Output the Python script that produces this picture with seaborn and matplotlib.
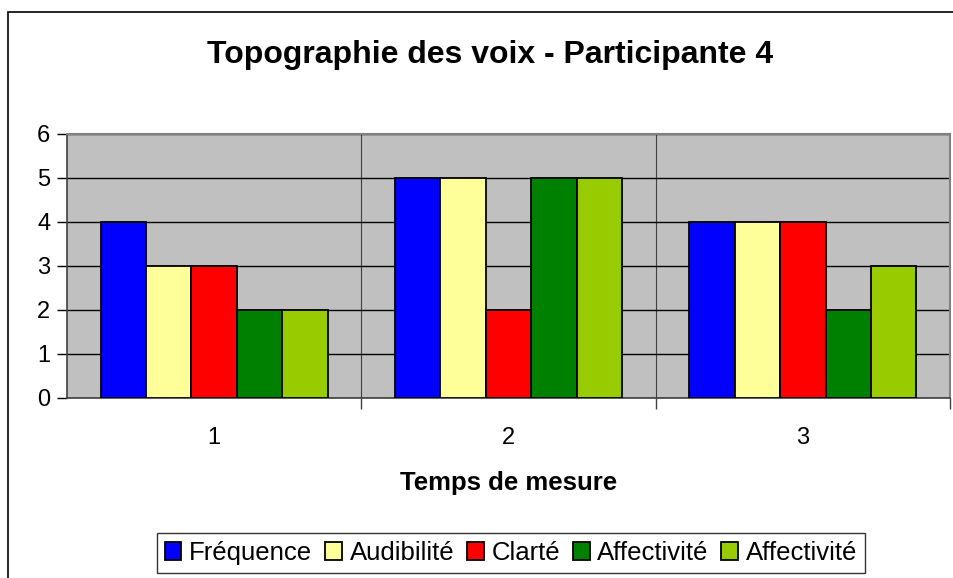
import pandas as pd
import matplotlib.pyplot as plt
import seaborn as sns
from matplotlib.patches import Rectangle
from matplotlib.ticker import FixedLocator

# data
temps = ["1", "2", "3"]
series = ["Fréquence", "Audibilité", "Clarté", "Affectivité", "Affectivité"]
frequence = [4, 5, 4]
audibilite = [3, 5, 4]
clarte = [3, 2, 4]
affectivite_1 = [2, 5, 2]
affectivite_2 = [2, 5, 3]
colors = ["#0000FF", "#FFFF99", "#FF0000", "#008000", "#99CC00"]

values = [frequence, audibilite, clarte, affectivite_1, affectivite_2]
keys = [f"s{i}" for i in range(len(series))]
rows = []
for key, vals in zip(keys, values):
    for t, v in zip(temps, vals):
        rows.append({"temps": t, "serie": key, "valeur": v})
df = pd.DataFrame(rows)

sns.set_style("white")
plt.rcParams["font.family"] = ["Liberation Sans", "DejaVu Sans"]
plt.rcParams["text.color"] = "black"
plt.rcParams["xtick.color"] = "black"
plt.rcParams["ytick.color"] = "black"
plt.rcParams["axes.labelcolor"] = "black"

fig = plt.figure(figsize=(9.54, 5.78), dpi=100)
ax = fig.add_axes([67 / 954, 1 - 398 / 578, (950 - 67) / 954, (398 - 134) / 578])

# outer chart border
fig.patches.append(Rectangle((8.5 / 954, -0.01), 1.0, 1 - 12 / 578 + 0.01, transform=fig.transFigure,
                             fill=False, edgecolor="black", linewidth=1.2, zorder=0))

sns.barplot(data=df, x="temps", y="valeur", hue="serie", hue_order=keys,
            palette=colors, width=0.772, gap=0, edgecolor="black", linewidth=1.3,
            saturation=1, ax=ax, legend=True, zorder=3)

ax.set_facecolor("#C0C0C0")
ax.set_ylim(0, 6)
ax.set_xlim(-0.5, 2.5)
ax.set_yticks(range(0, 7))
ax.yaxis.grid(True, color="black", linewidth=1.0, zorder=1)
ax.xaxis.set_minor_locator(FixedLocator([0.5, 1.5, 2.5]))
ax.xaxis.grid(True, which="minor", color="#404040", linewidth=0.8, zorder=1)
ax.set_axisbelow(True)

for side in ["top", "right"]:
    ax.spines[side].set_color("#808080")
    ax.spines[side].set_linewidth(1.5)
ax.spines["left"].set_color("#404040")
ax.spines["bottom"].set_color("#404040")
ax.spines["left"].set_linewidth(1.2)
ax.spines["bottom"].set_linewidth(1.2)

ax.tick_params(axis="y", which="major", direction="out", length=7, width=1, color="black",
               labelsize=17, pad=5, left=True)
ax.tick_params(axis="x", which="major", length=0, labelsize=17, pad=21)
ax.tick_params(axis="x", which="minor", direction="out", length=8, width=1, color="#404040", bottom=True)

ax.set_xlabel("Temps de mesure", fontsize=18.5, fontweight="bold", labelpad=16)
ax.set_ylabel("")
fig.text(490 / 954, 1 - 55 / 578, "Topographie des voix - Participante 4",
         ha="center", va="center", fontsize=23, fontweight="bold")

handles, _ = ax.get_legend_handles_labels()
ax.legend(handles, series, loc="center", bbox_to_anchor=(511 / 954, 1 - 553 / 578),
          bbox_transform=fig.transFigure, ncol=5, fontsize=18.5, frameon=True, fancybox=False,
          edgecolor="black", handlelength=0.65, handleheight=0.65, handletextpad=0.3,
          columnspacing=0.5, borderpad=0.3, borderaxespad=0)
ax.get_legend().get_frame().set_linewidth(1.0)

fig.savefig("out.png", dpi=100)
